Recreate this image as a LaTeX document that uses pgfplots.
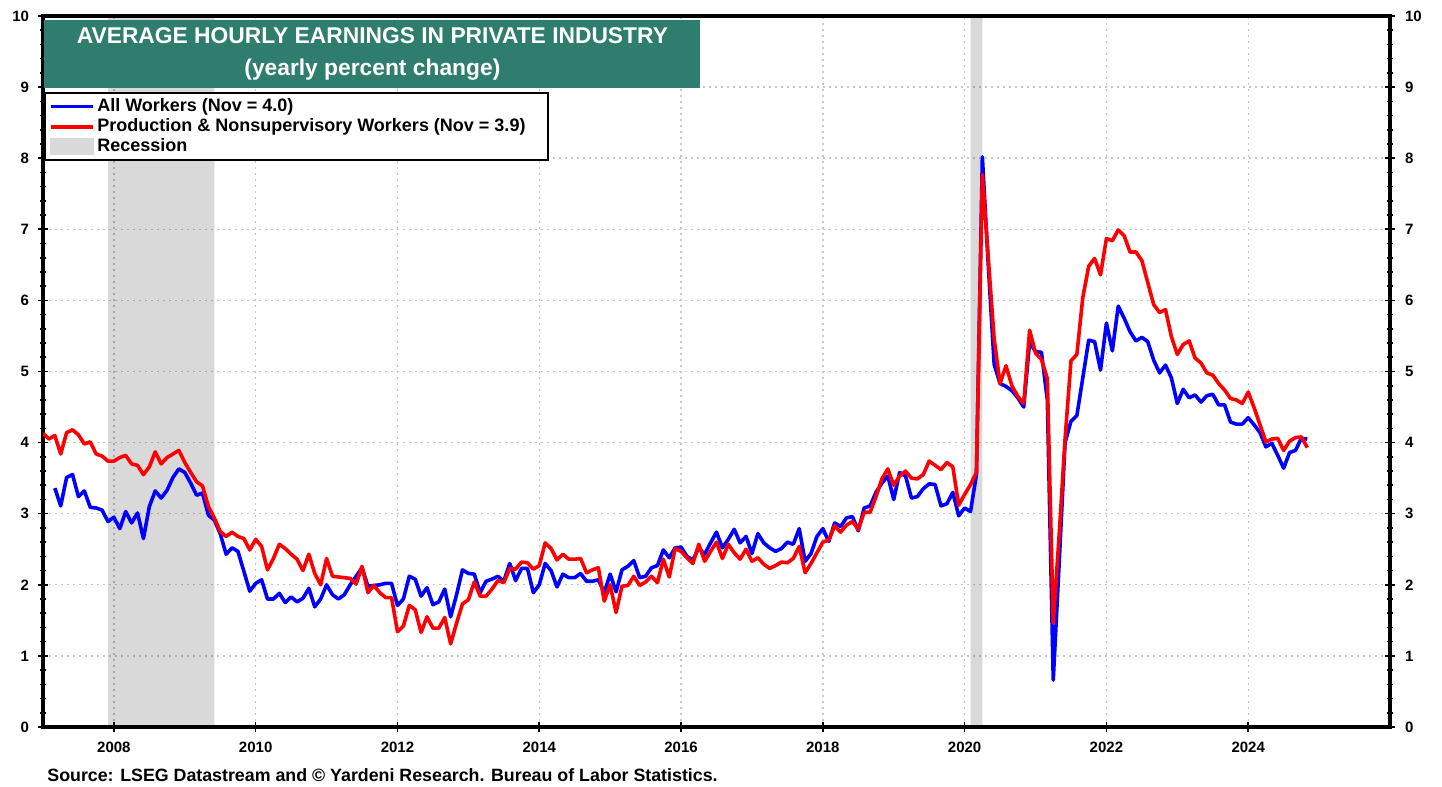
\documentclass[border=0pt]{standalone}
\usepackage{pgfplots}
\usepackage{pgfplotstable}
\pgfplotsset{compat=1.18}
\usepackage{fontspec}
\setmainfont{Liberation Sans}

\definecolor{titleteal}{RGB}{46,125,111}
\definecolor{recgray}{RGB}{217,217,217}

% year, month, all workers, production & nonsupervisory (yoy %)
\pgfplotstableread{
yr mo all prod
2007 1 nan 4.13
2007 2 nan 4.05
2007 3 3.36 4.10
2007 4 3.11 3.84
2007 5 3.51 4.14
2007 6 3.55 4.18
2007 7 3.24 4.11
2007 8 3.32 3.98
2007 9 3.09 4.01
2007 10 3.08 3.84
2007 11 3.05 3.81
2007 12 2.89 3.74
2008 1 2.95 3.74
2008 2 2.79 3.79
2008 3 3.03 3.82
2008 4 2.87 3.70
2008 5 3.01 3.68
2008 6 2.65 3.55
2008 7 3.10 3.66
2008 8 3.32 3.87
2008 9 3.22 3.70
2008 10 3.33 3.79
2008 11 3.51 3.84
2008 12 3.63 3.89
2009 1 3.58 3.72
2009 2 3.43 3.58
2009 3 3.26 3.45
2009 4 3.29 3.39
2009 5 2.98 3.10
2009 6 2.91 2.94
2009 7 2.72 2.75
2009 8 2.43 2.68
2009 9 2.52 2.74
2009 10 2.47 2.68
2009 11 2.19 2.65
2009 12 1.91 2.49
2010 1 2.02 2.64
2010 2 2.07 2.54
2010 3 1.80 2.21
2010 4 1.80 2.37
2010 5 1.88 2.57
2010 6 1.75 2.51
2010 7 1.83 2.43
2010 8 1.76 2.36
2010 9 1.81 2.20
2010 10 1.95 2.43
2010 11 1.69 2.16
2010 12 1.80 2.00
2011 1 2.00 2.37
2011 2 1.86 2.12
2011 3 1.80 2.11
2011 4 1.86 2.10
2011 5 2.00 2.09
2011 6 2.12 2.01
2011 7 2.24 2.26
2011 8 1.98 1.89
2011 9 1.99 1.99
2011 10 2.00 1.89
2011 11 2.02 1.82
2011 12 2.02 1.82
2012 1 1.71 1.34
2012 2 1.80 1.42
2012 3 2.12 1.71
2012 4 2.08 1.65
2012 5 1.84 1.33
2012 6 1.96 1.55
2012 7 1.72 1.39
2012 8 1.76 1.39
2012 9 1.94 1.54
2012 10 1.55 1.17
2012 11 1.86 1.46
2012 12 2.21 1.73
2013 1 2.16 1.79
2013 2 2.15 2.04
2013 3 1.89 1.84
2013 4 2.05 1.84
2013 5 2.08 1.94
2013 6 2.12 2.06
2013 7 2.05 2.03
2013 8 2.30 2.23
2013 9 2.06 2.22
2013 10 2.23 2.32
2013 11 2.23 2.31
2013 12 1.89 2.22
2014 1 2.00 2.27
2014 2 2.30 2.59
2014 3 2.20 2.51
2014 4 1.97 2.35
2014 5 2.15 2.43
2014 6 2.10 2.36
2014 7 2.10 2.36
2014 8 2.16 2.37
2014 9 2.05 2.17
2014 10 2.05 2.21
2014 11 2.07 2.24
2014 12 1.89 1.77
2015 1 2.15 2.00
2015 2 1.90 1.61
2015 3 2.21 1.98
2015 4 2.26 1.99
2015 5 2.34 2.12
2015 6 2.10 1.99
2015 7 2.12 2.04
2015 8 2.24 2.12
2015 9 2.27 2.03
2015 10 2.49 2.36
2015 11 2.38 2.11
2015 12 2.52 2.51
2016 1 2.53 2.47
2016 2 2.40 2.38
2016 3 2.35 2.30
2016 4 2.52 2.57
2016 5 2.43 2.33
2016 6 2.59 2.47
2016 7 2.74 2.60
2016 8 2.52 2.37
2016 9 2.64 2.57
2016 10 2.78 2.45
2016 11 2.59 2.36
2016 12 2.68 2.50
2017 1 2.44 2.33
2017 2 2.72 2.38
2017 3 2.59 2.29
2017 4 2.52 2.23
2017 5 2.47 2.27
2017 6 2.51 2.32
2017 7 2.60 2.31
2017 8 2.57 2.37
2017 9 2.79 2.54
2017 10 2.33 2.17
2017 11 2.44 2.30
2017 12 2.68 2.45
2018 1 2.79 2.60
2018 2 2.61 2.63
2018 3 2.87 2.83
2018 4 2.82 2.74
2018 5 2.94 2.84
2018 6 2.96 2.89
2018 7 2.76 2.78
2018 8 3.08 3.02
2018 9 3.11 3.02
2018 10 3.30 3.24
2018 11 3.43 3.49
2018 12 3.53 3.63
2019 1 3.20 3.40
2019 2 3.58 3.53
2019 3 3.53 3.60
2019 4 3.22 3.50
2019 5 3.24 3.49
2019 6 3.35 3.55
2019 7 3.42 3.74
2019 8 3.41 3.68
2019 9 3.11 3.62
2019 10 3.14 3.72
2019 11 3.30 3.66
2019 12 2.97 3.12
2020 1 3.08 3.27
2020 2 3.03 3.41
2020 3 3.55 3.58
2020 4 8.02 7.77
2020 5 6.50 6.60
2020 6 5.10 5.46
2020 7 4.83 4.83
2020 8 4.79 5.08
2020 9 4.73 4.80
2020 10 4.63 4.65
2020 11 4.50 4.55
2020 12 5.41 5.58
2021 1 5.28 5.26
2021 2 5.27 5.17
2021 3 4.60 4.90
2021 4 0.66 1.46
2021 5 2.30 2.70
2021 6 4.00 4.05
2021 7 4.30 5.15
2021 8 4.38 5.24
2021 9 4.91 6.04
2021 10 5.44 6.48
2021 11 5.42 6.59
2021 12 5.02 6.36
2022 1 5.68 6.87
2022 2 5.29 6.84
2022 3 5.92 6.99
2022 4 5.75 6.91
2022 5 5.56 6.68
2022 6 5.43 6.68
2022 7 5.48 6.56
2022 8 5.42 6.25
2022 9 5.16 5.94
2022 10 4.98 5.83
2022 11 5.09 5.87
2022 12 4.91 5.49
2023 1 4.55 5.24
2023 2 4.75 5.38
2023 3 4.63 5.43
2023 4 4.67 5.19
2023 5 4.57 5.12
2023 6 4.66 4.98
2023 7 4.68 4.95
2023 8 4.53 4.83
2023 9 4.53 4.74
2023 10 4.29 4.62
2023 11 4.26 4.60
2023 12 4.26 4.55
2024 1 4.35 4.71
2024 2 4.25 4.49
2024 3 4.14 4.25
2024 4 3.94 4.01
2024 5 3.99 4.05
2024 6 3.82 4.06
2024 7 3.64 3.89
2024 8 3.86 4.02
2024 9 3.89 4.07
2024 10 4.06 4.08
2024 11 4.05 3.93
}\earnings

\begin{document}
\begin{tikzpicture}
\useasboundingbox (-21.5pt,-30pt) rectangle (699.5pt,363.5pt);

\begin{axis}[
    name=main,
    at={(0,0)}, anchor=south west,
    width=673.5pt, height=355.5pt, scale only axis,
    xmin=2007, xmax=2026, ymin=0, ymax=10,
    xtick={2008,2010,...,2024},
    xticklabels={2008,2010,2012,2014,2016,2018,2020,2022,2024},
    ytick={0,...,10}, minor y tick num=4,
    xtick pos=bottom, ytick pos=both, yticklabel pos=left,
    grid=major,
    grid style={gray!45, line width=0.7pt, dash pattern=on 0.8pt off 2.2pt},
    axis line style={line width=1.6pt},
    tick style={black, line width=0.8pt},
    major tick length=5pt, minor tick length=3pt, tick align=center,
    /pgf/number format/assume math mode=true,
    ticklabel style={font=\bfseries\fontsize{7.5}{9}\selectfont},
    xticklabel style={yshift=-1.5pt},
    yticklabel style={xshift=-1pt},
    legend cell align=left,
    legend image code/.code={\draw[#1] (0pt,0pt) -- (21pt,0pt);},
    legend style={at={(0.0008,0.893)}, anchor=north west,
        draw=black, line width=1pt, fill=white,
        font=\bfseries\fontsize{9}{10}\selectfont,
        nodes={inner sep=1.3pt},
        inner xsep=2pt, inner ysep=1.5pt, row sep=-0.6pt},
]
\addplot[draw=none, fill=black, fill opacity=0.15, forget plot]
    coordinates {(2007.917,0) (2007.917,10) (2009.417,10) (2009.417,0)} \closedcycle;
\addplot[draw=none, fill=black, fill opacity=0.15, forget plot]
    coordinates {(2020.083,0) (2020.083,10) (2020.25,10) (2020.25,0)} \closedcycle;

\addplot[blue, line width=1.8pt, line join=round]
    table[x expr=\thisrow{yr}+(\thisrow{mo}-1)/12, y=all] {\earnings};
\addlegendentry{All Workers (Nov = 4.0)}
\addplot[red, line width=1.8pt, line join=round]
    table[x expr=\thisrow{yr}+(\thisrow{mo}-1)/12, y=prod] {\earnings};
\addlegendentry{Production \& Nonsupervisory Workers (Nov = 3.9)\hspace*{8pt}}
\addlegendimage{legend image code/.code={\fill[recgray] (0pt,-3.8pt) rectangle (21pt,3.8pt);}}
\addlegendentry{Recession}

\node[fill=titleteal, text=white, anchor=north west, inner sep=0pt,
      minimum width=328pt, minimum height=34pt, align=center,
      font=\bfseries\fontsize{11.4}{16}\selectfont]
    at ([xshift=0.5pt, yshift=-2pt]rel axis cs:0,1)
    {AVERAGE HOURLY EARNINGS IN PRIVATE INDUSTRY\\(yearly percent change)};
\end{axis}

\begin{axis}[
    at={(0,0)}, anchor=south west,
    width=673.5pt, height=355.5pt, scale only axis,
    xmin=2007, xmax=2026, ymin=0, ymax=10,
    hide x axis, axis y line*=right,
    axis line style={draw=none},
    ytick={0,...,10}, major tick length=0pt, minor tick num=0,
    /pgf/number format/assume math mode=true,
    yticklabel style={font=\bfseries\fontsize{7.5}{9}\selectfont, xshift=4pt},
]
\addplot[draw=none] coordinates {(2007,0)};
\end{axis}

\node[anchor=west, inner sep=0pt, font=\bfseries\fontsize{8.9}{10}\selectfont]
    at ([xshift=2pt, yshift=-24pt]main.south west)
    {Source: LSEG Datastream and © Yardeni Research. Bureau of Labor Statistics.};
\end{tikzpicture}
\end{document}
